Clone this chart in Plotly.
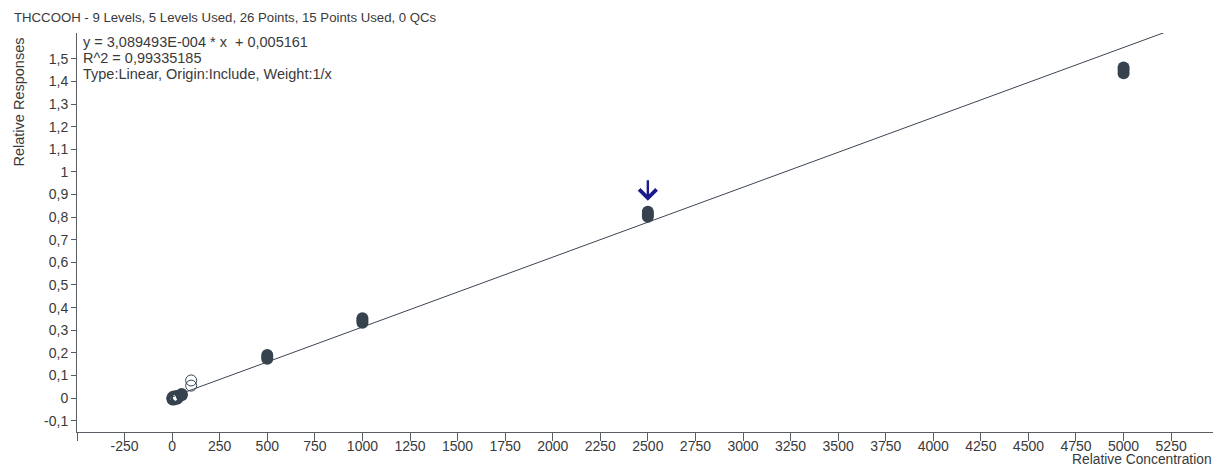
import plotly.graph_objects as go

# ---- data ----
used_x = [50, 50, 50, 500, 500, 500, 1000, 1000, 1000, 2500, 2500, 2500, 5000, 5000, 5000]
used_y = [0.012, 0.015, 0.018, 0.174, 0.182, 0.190, 0.333, 0.343, 0.353, 0.802, 0.812, 0.824, 1.436, 1.450, 1.462]

unused_x = [5, 5, 5, 10, 10, 10, 25, 25, 25, 100, 100]
unused_y = [-0.004, -0.001, 0.002, -0.002, 0.001, 0.004, 0.000, 0.003, 0.006, 0.055, 0.078]

slope = 3.089493e-4
intercept = 0.005161
fit_x = [0, 5300]

arrow_x = 2500
arrow_tail_y = 0.97
arrow_head_y = 0.872

x_ticks = [-500, -250, 0, 250, 500, 750, 1000, 1250, 1500, 1750, 2000, 2250, 2500, 2750,
           3000, 3250, 3500, 3750, 4000, 4250, 4500, 4750, 5000, 5250]
x_tick_text = ["", "-250"] + [str(v) for v in x_ticks[2:]]
y_ticks = [-0.1, 0, 0.1, 0.2, 0.3, 0.4, 0.5, 0.6, 0.7, 0.8, 0.9, 1.0, 1.1, 1.2, 1.3, 1.4, 1.5]
y_tick_text = ["-0,1", "0", "0,1", "0,2", "0,3", "0,4", "0,5", "0,6", "0,7", "0,8", "0,9",
               "1", "1,1", "1,2", "1,3", "1,4", "1,5"]

title_text = "THCCOOH - 9 Levels, 5 Levels Used, 26 Points, 15 Points Used, 0 QCs"
info_lines = ["y = 3,089493E-004 * x  + 0,005161", "R^2 = 0,99335185",
              "Type:Linear, Origin:Include, Weight:1/x"]

# ---- figure ----
FONT = "Liberation Sans, Arial, sans-serif"
TXT = "#3a3a3a"
MARK = "#36434f"
AX = "#5a5f66"
W, H = 1215, 466
L, R, T, B = 77, 2, 33, 34

fit_y = [slope * v + intercept for v in fit_x]
open_widths = [2.2 if v < 50 else 1.0 for v in unused_x]

fig = go.Figure()
fig.add_trace(go.Scatter(x=fit_x, y=fit_y, mode="lines",
                         line=dict(color="#3b4553", width=1), hoverinfo="skip"))
fig.add_trace(go.Scatter(x=unused_x, y=unused_y, mode="markers",
                         marker=dict(symbol="circle-open", size=11, color=MARK,
                                     line=dict(width=open_widths, color=MARK))))
fig.add_trace(go.Scatter(x=used_x, y=used_y, mode="markers",
                         marker=dict(symbol="circle", size=12, color=MARK,
                                     line=dict(width=0))))

fig.add_annotation(x=arrow_x, y=arrow_head_y, ax=arrow_x, ay=arrow_tail_y,
                   xref="x", yref="y", axref="x", ayref="y", text="",
                   showarrow=True, arrowhead=4, arrowsize=1.4, arrowwidth=2.4,
                   arrowcolor="#1a1a8c")

pw = W - L - R
ph = H - T - B
def px_x(p):
    return (p - L) / pw
def px_y(p):
    return (H - B - p) / ph

fig.add_annotation(text=title_text, xref="paper", yref="paper", x=px_x(12), y=px_y(18),
                   xanchor="left", yanchor="middle", showarrow=False,
                   font=dict(family=FONT, size=13.2, color=TXT))
for i, line in enumerate(info_lines):
    fig.add_annotation(text=line, xref="paper", yref="paper",
                       x=px_x(81), y=px_y(42 + 16 * i), xanchor="left", yanchor="middle",
                       showarrow=False, font=dict(family=FONT, size=14.5, color=TXT))
fig.add_annotation(text="Relative Responses", xref="paper", yref="paper",
                   x=px_x(18), y=px_y(36), xanchor="center", yanchor="top", textangle=-90,
                   showarrow=False, font=dict(family=FONT, size=14.5, color=TXT))
fig.add_annotation(text="Relative Concentration", xref="paper", yref="paper",
                   x=px_x(1213), y=px_y(459), xanchor="right", yanchor="middle",
                   showarrow=False, borderpad=0, font=dict(family=FONT, size=13.8, color=TXT))

fig.update_layout(
    width=W, height=H,
    margin=dict(l=L, r=R, t=T, b=B),
    paper_bgcolor="white", plot_bgcolor="white",
    showlegend=False,
    font=dict(family=FONT, size=14, color=TXT),
    xaxis=dict(range=[-500, 5470], tickmode="array", tickvals=x_ticks, ticktext=x_tick_text,
               showgrid=False, zeroline=False, showline=True, linecolor=AX,
               linewidth=1, ticks="outside", ticklen=8, tickcolor=AX,
               ticklabelstandoff=-7, automargin=False,
               tickfont=dict(family=FONT, size=14, color=TXT)),
    yaxis=dict(range=[-0.15, 1.614], tickmode="array", tickvals=y_ticks, ticktext=y_tick_text,
               showgrid=False, zeroline=False, showline=True, linecolor=AX,
               linewidth=1, ticks="outside", ticklen=5, tickcolor=AX, automargin=False,
               tickfont=dict(family=FONT, size=14, color=TXT)),
)

fig.write_html("out.html", config={"displayModeBar": False},
               post_script="document.body.style.margin='0';document.body.style.overflow='hidden';")
